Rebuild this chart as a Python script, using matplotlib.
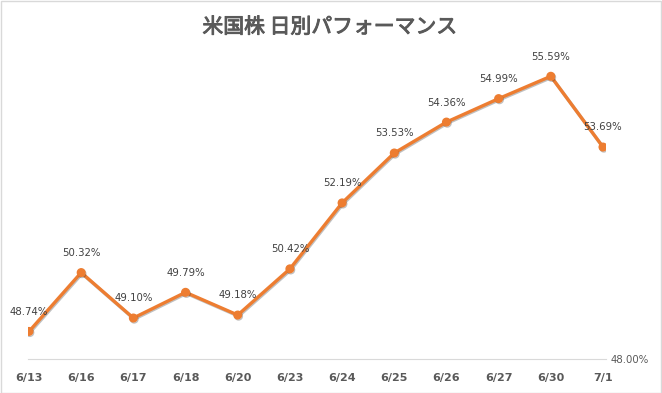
import matplotlib.pyplot as plt
import matplotlib.patheffects as pe
from matplotlib.patches import Rectangle

plt.rcParams['font.family'] = ['Noto Sans CJK JP', 'DejaVu Sans']

# data
dates = ['6/13', '6/16', '6/17', '6/18', '6/20', '6/23',
         '6/24', '6/25', '6/26', '6/27', '6/30', '7/1']
perf = [48.74, 50.32, 49.10, 49.79, 49.18, 50.42,
        52.19, 53.53, 54.36, 54.99, 55.59, 53.69]

W, H = 662, 393
fig = plt.figure(figsize=(W / 100, H / 100), dpi=100)
fig.patches.append(Rectangle((0.5 / W, 0.5 / H), 1 - 1.5 / W, 1 - 1.5 / H,
                             transform=fig.transFigure, fill=False,
                             edgecolor='#D9D9D9', linewidth=1))

# axes box in pixel terms
left, right, bottom, top = 28, 606, 359, 61
ax = fig.add_axes([left / W, (H - bottom) / H, (right - left) / W, (bottom - top) / H])

xs = list(range(len(dates)))
ax.plot(xs, perf, color='#ED7D31', linewidth=2.4, marker='o', markersize=5.5,
        solid_joinstyle='round', zorder=3,
        path_effects=[pe.SimpleLineShadow(offset=(0.6, -0.8), alpha=0.3, shadow_color='#303030'),
                      pe.Normal()])

for x, v in zip(xs, perf):
    ax.annotate(f'{v:.2f}%', (x, v), xytext=(0, 10.5), textcoords='offset points',
                ha='center', va='bottom', fontsize=7.3, color='#404040',
                family=['DejaVu Sans'])

unit = (603 - 29) / (len(dates) - 1)
ax.set_xlim(-1 / unit, len(dates) - 1 + 3 / unit)
ax.set_ylim(48, 56)

ax.set_xticks(xs)
ax.set_xticklabels(dates, fontsize=8, color='#595959', fontweight='bold',
                   family=['DejaVu Sans'])
ax.tick_params(axis='x', length=0, pad=10)
ax.yaxis.tick_right()
ax.set_yticks([48])
ax.set_yticklabels(['48.00%'], fontsize=7.3, color='#595959', family=['DejaVu Sans'])
ax.tick_params(axis='y', length=0, pad=3)

for s in ['top', 'left', 'right']:
    ax.spines[s].set_visible(False)
ax.spines['bottom'].set_color('#D9D9D9')

# semi-bold look: regular weight with a thin stroke
fig.text(330 / W, 1 - 27 / H, '米国株 日別パフォーマンス', ha='center', va='center',
         fontsize=15, color='#595959',
         path_effects=[pe.withStroke(linewidth=0.7, foreground='#595959')])

fig.savefig('out.png', dpi=100)
